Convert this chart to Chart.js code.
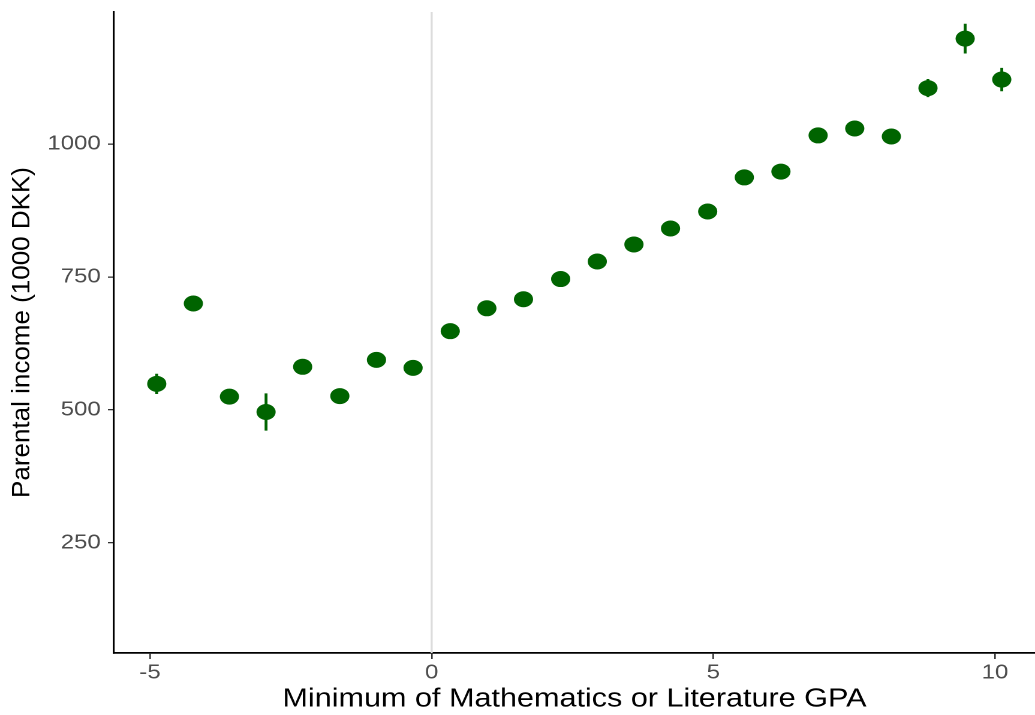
<!DOCTYPE html>
<html>
<head>
<meta charset="utf-8">
<script src="https://cdn.jsdelivr.net/npm/chart.js@4.4.1/dist/chart.umd.min.js"></script>
<style>
  html, body { margin: 0; padding: 0; background: #ffffff; overflow: hidden; }
  #wrap { width: 1035px; height: 715px; position: relative; overflow: hidden; }
  /* the figure is laid out on a narrower canvas and widened horizontally */
  #chart { position: absolute; left: 0; top: 0; transform-origin: 0 0; }
</style>
</head>
<body>
<div id="wrap"><canvas id="chart"></canvas></div>
<script>
// Binned GPA (minimum of maths / literature) and mean parental income per bin
const gpaBins = [-4.88, -4.23, -3.59, -2.94, -2.29, -1.63, -0.98, -0.33,
                 0.33, 0.98, 1.63, 2.29, 2.94, 3.59, 4.24, 4.90,
                 5.55, 6.20, 6.86, 7.51, 8.16, 8.81, 9.47, 10.12];
const parentalIncome = [549, 700, 525, 496, 581, 526, 594, 579,
                        648, 691, 708, 746, 779, 811, 841, 873,
                        937, 948, 1016, 1029, 1014, 1105, 1198, 1121];
// Half-width of the confidence interval for each bin
const ciHalf = [19, 9, 9, 35, 9, 9, 9, 9,
                8, 8, 8, 8, 8, 8, 8, 8,
                9, 9, 9, 9, 10, 17, 28, 22];
const xTicks = [-5, 0, 5, 10];
const yTicks = [250, 500, 750, 1000];
const xRange = [-5.64, 10.71];
const yRange = [43, 1248];
const cutoff = 0;
const xTitle = 'Minimum of Mathematics or Literature GPA';
const yTitle = 'Parental income (1000 DKK)';

const green = '#006400';

// Canvas geometry: drawn at a narrower width, then stretched to the page width
const outW = 1035, outH = 715;
const stretch = 1.2;
const W = Math.round(outW / stretch);
const kx = outW / W;
const canvas = document.getElementById('chart');
canvas.style.width = W + 'px';
canvas.style.height = outH + 'px';
canvas.style.transform = 'scaleX(' + kx + ')';

const pointData = gpaBins.map((x, i) => ({ x: x, y: parentalIncome[i] }));
const errData = [];
gpaBins.forEach((x, i) => {
  errData.push({ x: x, y: parentalIncome[i] - ciHalf[i] });
  errData.push({ x: x, y: parentalIncome[i] + ciHalf[i] });
  errData.push({ x: x, y: null });
});

const fontFamily = '"Liberation Sans", Arial, sans-serif';

// Vertical axis title, drawn upright-width (undoing the horizontal stretch)
const yTitlePlugin = {
  id: 'yTitle',
  afterDraw(chart) {
    const ctx = chart.ctx;
    const area = chart.chartArea;
    ctx.save();
    ctx.translate(22 / kx, (area.top + area.bottom) / 2);
    ctx.scale(1 / kx, 1);
    ctx.rotate(-Math.PI / 2);
    ctx.font = '26px ' + fontFamily;
    ctx.fillStyle = '#000000';
    ctx.textAlign = 'center';
    ctx.textBaseline = 'middle';
    ctx.fillText(yTitle, 0, 0);
    ctx.restore();
  }
};

new Chart(canvas, {
  type: 'scatter',
  data: {
    datasets: [
      {
        type: 'line',
        data: [{ x: cutoff, y: yRange[0] }, { x: cutoff, y: yRange[1] }],
        borderColor: '#dcdcdc',
        borderWidth: 1.7,
        pointRadius: 0,
        order: 3
      },
      {
        type: 'line',
        data: errData,
        borderColor: green,
        borderWidth: 2.4,
        pointRadius: 0,
        spanGaps: false,
        order: 2
      },
      {
        data: pointData,
        pointStyle: 'circle',
        pointRadius: 8,
        pointBorderWidth: 0,
        backgroundColor: green,
        borderColor: green,
        order: 1
      }
    ]
  },
  plugins: [yTitlePlugin],
  options: {
    responsive: false,
    maintainAspectRatio: false,
    devicePixelRatio: 2,
    animation: false,
    events: [],
    layout: { autoPadding: false, padding: { top: 12, right: 0, left: 0, bottom: 0 } },
    plugins: { legend: { display: false }, tooltip: { enabled: false } },
    scales: {
      x: {
        type: 'linear',
        min: xRange[0],
        max: xRange[1],
        afterBuildTicks: s => { s.ticks = xTicks.map(v => ({ value: v })); },
        afterFit: s => { s.height = 62; s.paddingLeft = 0; s.paddingRight = 0; },
        border: { display: true, color: '#000000', width: 1.8 },
        grid: { drawOnChartArea: false, drawTicks: true, tickLength: 6, color: '#333333', lineWidth: 1.3 },
        ticks: {
          color: '#4d4d4d', padding: 2, maxRotation: 0,
          font: { family: fontFamily, size: 20 },
          callback: v => String(v)
        },
        title: {
          display: true,
          text: xTitle,
          color: '#000000',
          font: { family: fontFamily, size: 25.5 },
          padding: { top: 0, bottom: 0 }
        }
      },
      y: {
        type: 'linear',
        min: yRange[0],
        max: yRange[1],
        afterBuildTicks: s => { s.ticks = yTicks.map(v => ({ value: v })); },
        afterFit: s => { s.width = 95; s.paddingTop = 0; s.paddingBottom = 0; },
        border: { display: true, color: '#000000', width: 1.6 },
        grid: { drawOnChartArea: false, drawTicks: true, tickLength: 5, color: '#333333', lineWidth: 1.3 },
        ticks: {
          color: '#4d4d4d', padding: 6,
          font: { family: fontFamily, size: 20 },
          callback: v => String(v)
        }
      }
    }
  }
});
</script>
</body>
</html>
